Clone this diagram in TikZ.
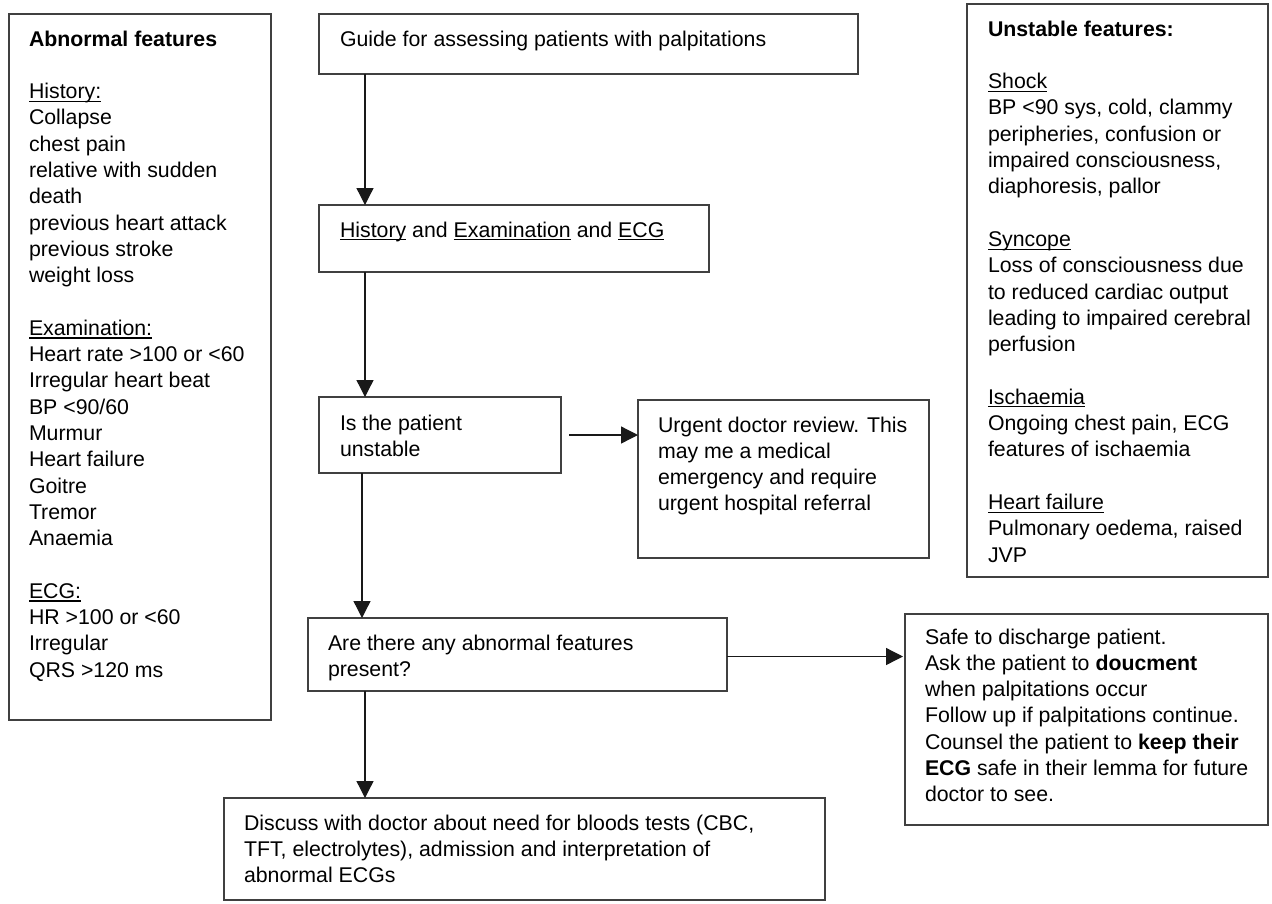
\documentclass[tikz,border=0pt]{standalone}
\usepackage{fontspec}
\setmainfont{Liberation Sans}
\usetikzlibrary{arrows.meta}
% underline at a fixed depth, independent of descenders
\newsavebox\ulbox
\newcommand\ulx[1]{\sbox\ulbox{#1}\rlap{\rule[-3.2pt]{\wd\ulbox}{1.1pt}}\usebox\ulbox}

\begin{document}
\begin{tikzpicture}[x=1pt,y=-1pt,
  frame/.style={draw=black!75, line width=1.6pt, inner sep=0pt, outer sep=0pt, anchor=north west},
  txt/.style={anchor=north west, inner sep=0pt, outer sep=0pt, align=left,
              font=\fontsize{21.3}{26.3}\selectfont},
  arr/.style={draw=black!90, line width=1.3pt, -{Triangle[length=17pt,width=17pt]}}]
\useasboundingbox (0,0) rectangle (1272,903);

% frames
\node[frame, minimum width=262pt, minimum height=706pt] (leftbox)  at (9,14)   {};
\node[frame, minimum width=539pt, minimum height=60pt]  (guide)    at (319,14) {};
\node[frame, minimum width=390pt, minimum height=67pt]  (hist)     at (319,205) {};
\node[frame, minimum width=242pt, minimum height=76pt]  (unst)     at (319,397) {};
\node[frame, minimum width=291pt, minimum height=158pt] (urg)      at (638,400) {};
\node[frame, minimum width=419pt, minimum height=73pt]  (abn)      at (308,618) {};
\node[frame, minimum width=363pt, minimum height=211pt] (safe)     at (905,614) {};
\node[frame, minimum width=601pt, minimum height=102pt] (disc)     at (224,798) {};
\node[frame, minimum width=301pt, minimum height=573pt] (rightbox) at (967,4)  {};

% texts
\node[txt] (lefttxt) at (29,27.6) {\strut\textbf{Abnormal features}\\ \\
  \ulx{History:}\\ Collapse\\ chest pain\\ relative with sudden\\ death\\
  previous heart attack\\ previous stroke\\ weight loss\\ \\
  \ulx{Examination:}\\ Heart rate >100 or <60\\ Irregular heart beat\\ BP <90/60\\
  Murmur\\ Heart failure\\ Goitre\\ Tremor\\ Anaemia\\ \\
  \ulx{ECG:}\\ HR >100 or <60\\ Irregular\\ QRS >120 ms};

\node[txt] (guidetxt) at (340,27.6) {\strut Guide for assessing patients with palpitations};
\node[txt] (histtxt) at (340,218.6) {\strut\ulx{History} and \ulx{Examination} and \ulx{ECG}};
\node[txt] (unsttxt) at (340,411.6) {\strut Is the patient\\ unstable};
\node[txt] (urgtxt) at (658,413.6) {\strut Urgent doctor review. This\\ may me a medical\\
  emergency and require\\ urgent hospital referral};
\node[txt] (abntxt) at (328,631.6) {\strut Are there any abnormal features\\ present?};
\node[txt] (safetxt) at (925,625.6) {\strut Safe to discharge patient.\\
  Ask the patient to \textbf{doucment}\\ when palpitations occur\\
  Follow up if palpitations continue.\\ Counsel the patient to \textbf{keep their}\\
  \textbf{ECG} safe in their lemma for future\\ doctor to see.};
\node[txt] (disctxt) at (244,811.6) {\strut Discuss with doctor about need for bloods tests (CBC,\\
  TFT, electrolytes), admission and interpretation of\\ abnormal ECGs};

\node[txt] (righttxt) at (988,17.6) {\strut\textbf{Unstable features:}\\ \\
  \ulx{Shock}\\ BP <90 sys, cold, clammy\\ peripheries, confusion or\\
  impaired consciousness,\\ diaphoresis, pallor\\ \\
  \ulx{Syncope}\\ Loss of consciousness due\\ to reduced cardiac output\\
  leading to impaired cerebral\\ perfusion\\ \\
  \ulx{Ischaemia}\\ Ongoing chest pain, ECG\\ features of ischaemia\\ \\
  \ulx{Heart failure}\\ Pulmonary oedema, raised\\ JVP};

% connectors
\coordinate (colA) at (365,0);
\coordinate (colB) at (362,0);
\draw[arr] (colA |- guide.south) -- (colA |- hist.north);
\draw[arr] (colA |- hist.south) -- (colA |- unst.north);
\draw[arr] (colB |- unst.south) -- (colB |- abn.north);
\draw[arr] (colA |- abn.south) -- (colA |- disc.north);
\draw[arr] ([xshift=8pt]unst.east) -- (unst.east -| urg.west);
\draw[arr] ([yshift=-2pt]abn.east) -- ([yshift=-2pt,xshift=-2pt]abn.east -| safe.west);
\end{tikzpicture}
\end{document}
